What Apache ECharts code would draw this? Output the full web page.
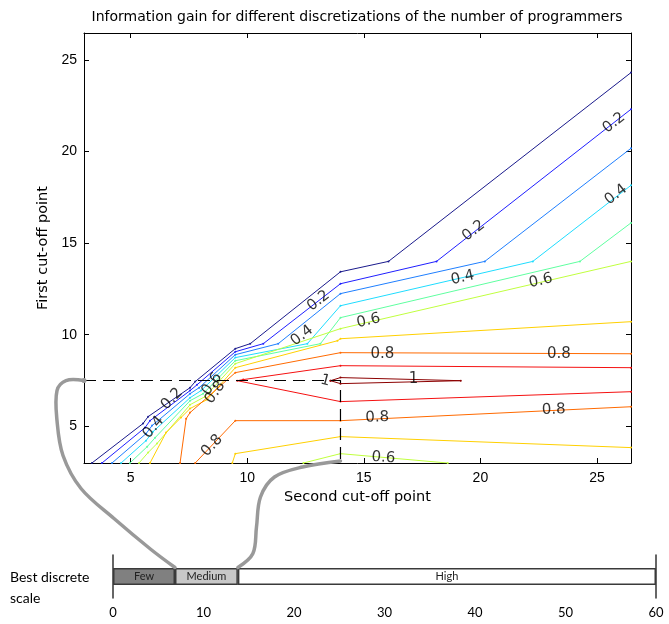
<!DOCTYPE html>
<html>
<head>
<meta charset="utf-8">
<script src="https://cdn.jsdelivr.net/npm/echarts@6/dist/echarts.min.js"></script>
<style>
  html, body { margin: 0; padding: 0; background: #fff; }
  #chart { width: 669px; height: 624px; }
</style>
</head>
<body>
<div id="chart"></div>
<script>
// axis ticks
const xTicks = [5, 10, 15, 20, 25];
const yTicks = [5, 10, 15, 20, 25];

// contour lines (second cut-off, first cut-off)
const lev01 = [[3.34,3.0],[5.53,5.15],[5.75,5.53],[7.55,7.11],[7.77,7.44],[9.49,9.24],[10.13,9.51],[14.0,13.43],[16.06,14.0],[26.46,24.3]];
const lev02 = [[3.77,3.0],[5.62,4.93],[5.83,5.31],[7.55,6.95],[7.85,7.27],[9.49,9.07],[10.69,9.51],[14.0,12.78],[18.12,14.0],[26.46,22.3]];
const lev03 = [[4.2,3.0],[5.66,4.6],[5.92,5.04],[7.55,6.78],[7.94,7.11],[9.49,8.91],[11.33,9.51],[14.0,12.24],[20.19,14.0],[26.46,20.17]];
const lev04 = [[4.59,3.0],[5.66,4.22],[5.96,4.71],[7.55,6.56],[8.02,6.95],[9.49,8.75],[12.58,9.51],[14.0,11.58],[22.25,14.0],[26.46,18.15]];
const lev05 = [[4.97,3.0],[5.71,3.89],[6.05,4.38],[7.55,6.4],[8.11,6.78],[9.49,8.58],[13.14,9.51],[14.0,10.93],[24.27,14.0],[26.46,16.1]];
const lev06a = [[5.36,3.0],[5.75,3.57],[6.13,4.06],[7.55,6.18],[8.19,6.62],[9.49,8.42],[14.0,10.33],[26.46,14.0]];
const lev06b = [[12.41,3.0],[14.0,3.51],[18.6,3.0]];
const lev07a = [[5.83,3.0],[6.52,4.66],[7.16,5.48],[7.55,5.97],[8.28,6.46],[9.49,8.2],[13.87,9.67],[14.0,9.78],[26.46,10.71]];
const lev07b = [[9.36,3.0],[9.49,3.51],[14.0,4.44],[26.46,3.84]];
const lev08a = [[7.12,3.0],[7.38,5.42],[7.55,5.75],[9.49,7.93],[14.0,9.02],[26.46,8.96]];
const lev08b = [[7.77,3.0],[9.49,5.31],[14.0,5.31],[26.46,6.07]];
const lev09 = [[26.46,8.2],[14.0,8.31],[9.83,7.55],[9.57,7.49],[14.0,6.35],[26.46,6.89]];
const lev10 = [[13.57,7.49],[14.0,7.66],[19.16,7.49],[14.0,7.33],[13.57,7.49]];

// contour labels
const labelText = ['0.2','0.4','0.2','0.4','0.6','0.8','0.8','0.2','0.2','0.4','0.4','0.6','0.6','0.8','0.8','1','1','0.8','0.8','0.6'];
const labelX = [13.06,12.35,6.77,5.98,8.49,8.63,8.49,19.71,25.73,25.82,19.24,15.2,22.59,15.8,23.37,17.13,13.35,15.58,23.15,15.84];
const labelY = [11.85,9.95,6.49,4.95,7.31,6.85,3.95,15.67,21.56,17.64,13.11,10.76,12.94,8.96,8.96,7.6,7.49,5.48,5.91,3.29];
const labelAngle = [38,38,45,50,55,55,47,38,38,38,13,13,13,0,0,0,-15,2,2,-4];

// best cut-off points
const cutFirst = 7.5;
const cutSecond = 14.0;

// discrete scale below
const scaleNames = ['Few', 'Medium', 'High'];
const scaleWidths = [6.85, 6.95, 46.2];
const scaleColors = ['#808080', '#c8c8c8', '#ffffff'];

const jet = {
  '0.1': '#1a1a8c', '0.2': '#1f1fff', '0.3': '#1f7fff', '0.4': '#1fdcff', '0.5': '#5fffa0',
  '0.6': '#c0ff3f', '0.7': '#ffd000', '0.8': '#ff6a00', '0.9': '#f51010', '1': '#8c0000'
};
const contours = [
  ['0.1', lev01], ['0.2', lev02], ['0.3', lev03], ['0.4', lev04], ['0.5', lev05],
  ['0.6', lev06a], ['0.6', lev06b], ['0.7', lev07a], ['0.7', lev07b],
  ['0.8', lev08a], ['0.8', lev08b], ['0.9', lev09], ['1', lev10]
];

const font = 'Liberation Sans';
const wide = 'DejaVu Sans';
const chart = echarts.init(document.getElementById('chart'));

const series = contours.map(function (c) {
  return {
    type: 'line', xAxisIndex: 0, yAxisIndex: 0, data: c[1],
    symbol: 'circle', symbolSize: 2, showSymbol: true,
    itemStyle: { color: jet[c[0]] },
    lineStyle: { color: jet[c[0]], width: 1 },
    silent: true, z: 2
  };
});

series.push({
  type: 'line', xAxisIndex: 0, yAxisIndex: 0,
  data: [[3, cutFirst], [cutSecond, cutFirst], [cutSecond, 3]],
  symbol: 'none',
  lineStyle: { color: '#000', width: 1.2, type: [12, 7] },
  silent: true, z: 3
});

series.push({
  type: 'scatter', xAxisIndex: 0, yAxisIndex: 0,
  symbolSize: 1, itemStyle: { color: 'rgba(0,0,0,0)' },
  label: { show: true, position: 'inside', formatter: '{b}', fontFamily: wide, fontSize: 15, color: '#000' },
  data: labelText.map(function (t, i) {
    return { name: t, value: [labelX[i], labelY[i]], label: { rotate: labelAngle[i] } };
  }),
  silent: true, z: 4
});

scaleNames.forEach(function (n, i) {
  series.push({
    type: 'bar', xAxisIndex: 2, yAxisIndex: 2, stack: 'scale', barWidth: 17,
    data: [scaleWidths[i]],
    itemStyle: { color: scaleColors[i], borderColor: '#3a3a3a', borderWidth: 1.5 },
    label: { show: true, position: 'inside', formatter: n, fontFamily: 'Lato', fontSize: 11, color: '#222' },
    silent: true
  });
});

const tickStyle = { color: '#000', width: 1 };
chart.setOption({
  animation: false,
  title: {
    text: 'Information gain for different discretizations of the number of programmers',
    left: 352, top: 5, textAlign: 'center',
    textStyle: { fontFamily: wide, fontSize: 14, fontWeight: 'normal', color: '#000' }
  },
  grid: [
    { left: 84, top: 33, right: 38, bottom: 161 },
    { left: 113, top: 555, right: 13, bottom: 26 }
  ],
  xAxis: [
    {
      gridIndex: 0, type: 'value', position: 'bottom', min: 3, max: 26.46,
      axisLine: { onZero: false, lineStyle: tickStyle },
      axisTick: { inside: true, length: 5, customValues: xTicks, lineStyle: tickStyle },
      axisLabel: { customValues: xTicks, fontFamily: font, fontSize: 14, color: '#000', margin: 8 },
      splitLine: { show: false },
      name: 'Second cut-off point', nameLocation: 'middle', nameGap: 27,
      nameTextStyle: { fontFamily: wide, fontSize: 14.5, color: '#000' }
    },
    {
      gridIndex: 0, type: 'value', position: 'top', min: 3, max: 26.46,
      axisLine: { onZero: false, lineStyle: tickStyle },
      axisTick: { inside: true, length: 5, customValues: xTicks, lineStyle: tickStyle },
      axisLabel: { show: false }, splitLine: { show: false }
    },
    {
      gridIndex: 1, type: 'value', position: 'bottom', min: 0, max: 60, interval: 10,
      axisLine: { onZero: false, lineStyle: { color: '#333', width: 1.5 } },
      axisTick: { inside: true, length: 5, lineStyle: { color: '#333', width: 1.2 } },
      axisLabel: { fontFamily: 'Lato', fontSize: 13, color: '#000', margin: 8 },
      splitLine: { show: false }
    }
  ],
  yAxis: [
    {
      gridIndex: 0, type: 'value', position: 'left', min: 3, max: 26.46,
      axisLine: { show: true, onZero: false, lineStyle: tickStyle },
      axisTick: { show: true, inside: true, length: 5, customValues: yTicks, lineStyle: tickStyle },
      axisLabel: { customValues: yTicks, fontFamily: font, fontSize: 14, color: '#000', margin: 7 },
      splitLine: { show: false },
      name: 'First cut-off point', nameLocation: 'middle', nameGap: 30,
      nameTextStyle: { fontFamily: wide, fontSize: 14.5, color: '#000' }
    },
    {
      gridIndex: 0, type: 'value', position: 'right', min: 3, max: 26.46,
      axisLine: { show: true, onZero: false, lineStyle: tickStyle },
      axisTick: { show: true, inside: true, length: 5, customValues: yTicks, lineStyle: tickStyle },
      axisLabel: { show: false }, splitLine: { show: false }
    },
    {
      gridIndex: 1, type: 'category', position: 'left', data: ['scale'],
      axisLine: { show: true, lineStyle: { color: '#333', width: 1.5 } },
      axisTick: { show: false }, axisLabel: { show: false }
    },
    {
      gridIndex: 1, type: 'category', position: 'right', data: ['scale'],
      axisLine: { show: true, lineStyle: { color: '#333', width: 1.5 } },
      axisTick: { show: false }, axisLabel: { show: false }
    }
  ],
  series: series
});

// grey connectors from the best cut-off points down to the scale
const p0 = chart.convertToPixel({ xAxisIndex: 0, yAxisIndex: 0 }, [3, cutFirst]);
const p1 = chart.convertToPixel({ xAxisIndex: 0, yAxisIndex: 0 }, [cutSecond, 3]);
const b0 = chart.convertToPixel({ xAxisIndex: 2, yAxisIndex: 2 }, [scaleWidths[0], 0]);
const b1 = chart.convertToPixel({ xAxisIndex: 2, yAxisIndex: 2 }, [scaleWidths[0] + scaleWidths[1], 0]);
const barTop = b0[1] - 9;
const grey = { stroke: '#999', lineWidth: 3.5, fill: null, lineCap: 'round' };

chart.setOption({
  graphic: [
    {
      type: 'polyline', z: 100, silent: true,
      shape: {
        smooth: 0.35,
        points: [
          [p0[0], p0[1]], [p0[0] - 18, p0[1]], [p0[0] - 27, p0[1] + 10], [p0[0] - 27, p0[1] + 40],
          [p0[0] - 21, p0[1] + 75], [p0[0] - 3, p0[1] + 108], [p0[0] + 30, p0[1] + 138],
          [b0[0] - 24, barTop - 18], [b0[0], barTop]
        ]
      },
      style: grey
    },
    {
      type: 'polyline', z: 100, silent: true,
      shape: {
        smooth: 0.35,
        points: [
          [p1[0], p1[1] - 2], [p1[0] - 38, p1[1] + 4], [p1[0] - 66, p1[1] + 14], [p1[0] - 80, p1[1] + 34],
          [p1[0] - 84, p1[1] + 64], [b1[0] + 15, barTop - 14], [b1[0], barTop]
        ]
      },
      style: grey
    },
    {
      type: 'circle', z: 101, silent: true,
      shape: { cx: p0[0], cy: p0[1], r: 2.5 },
      style: { fill: '#999' }
    },
    {
      type: 'text', left: 10, top: 567, silent: true,
      style: { text: 'Best discrete\nscale', fontFamily: 'Lato', fontSize: 14, lineHeight: 21, fill: '#000' }
    }
  ]
});
</script>
</body>
</html>
